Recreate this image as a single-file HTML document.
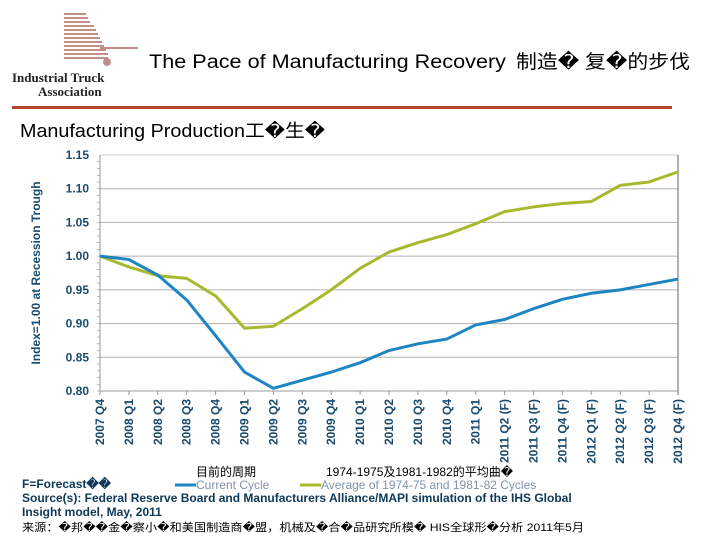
<!DOCTYPE html>
<html><head><meta charset="utf-8"><style>
html,body{margin:0;padding:0;background:#fff;}
svg{display:block;font-family:"Liberation Sans","Noto Sans CJK SC",sans-serif;}
</style></head><body>
<svg width="720" height="540" viewBox="0 0 720 540">
<g>
  <g fill="#b87b78" opacity="0.85">
    <rect x="64" y="13" width="22" height="2"/><rect x="64" y="17" width="24" height="2"/><rect x="64" y="21" width="26" height="2"/>
    <rect x="64" y="25" width="30" height="2"/><rect x="64" y="29" width="32" height="2"/><rect x="64" y="33" width="34" height="2"/>
    <rect x="64" y="37" width="36" height="2"/><rect x="64" y="41" width="38" height="2"/><rect x="64" y="45" width="40" height="2"/>
    <rect x="64" y="49" width="42" height="2"/><rect x="64" y="53" width="44" height="2"/><rect x="64" y="57" width="44" height="2"/>
    <rect x="100" y="47" width="38" height="2"/>
    <circle cx="107" cy="62" r="4"/>
  </g>
  <text x="12" y="82" font-family="Liberation Serif,serif" font-weight="bold" font-size="13" fill="#222">Industrial Truck</text>
  <text x="38" y="96" font-family="Liberation Serif,serif" font-weight="bold" font-size="13" fill="#222">Association</text>
</g>
<g>
<text x="149" y="68" font-size="19" fill="#000" textLength="357" lengthAdjust="spacingAndGlyphs">The Pace of Manufacturing Recovery</text>
<text x="516" y="68" font-size="19" fill="#000" textLength="174" lengthAdjust="spacingAndGlyphs">制造� 复�的步伐</text>
</g>
<rect x="12" y="106" width="660" height="3" fill="#b5452a"/>
<text x="20" y="137" font-size="18" fill="#000" textLength="305" lengthAdjust="spacingAndGlyphs">Manufacturing Production工�生�</text>
<g id="chart"></g>
<g font-size="12">
  <text x="196" y="476" fill="#000">目前的周期</text>
  <text x="326" y="476" fill="#000">1974-1975及1981-1982的平均曲�</text>
  <line x1="175" y1="485" x2="196" y2="485" stroke="#1f85c2" stroke-width="3"/>
  <text x="196" y="489" fill="#7f93a8">Current Cycle</text>
  <line x1="300" y1="485" x2="321" y2="485" stroke="#a9b92f" stroke-width="3"/>
  <text x="321" y="489" fill="#7f93a8">Average of 1974-75 and 1981-82 Cycles</text>
</g>
<text x="22" y="488" font-size="12" font-weight="bold" fill="#0e3858">F=Forecast��</text>
<text x="22" y="502" font-size="12" font-weight="bold" fill="#0e3858">Source(s): Federal Reserve Board and Manufacturers Alliance/MAPI simulation of the IHS Global</text>
<text x="22" y="516" font-size="12" font-weight="bold" fill="#0e3858">Insight model, May, 2011</text>
<text x="22" y="531" font-size="11" fill="#000" textLength="562" lengthAdjust="spacingAndGlyphs">来源：�邦��金�察小�和美国制造商�盟，机械及�合�品研究所模�  HIS全球形�分析 2011年5月</text>
</svg>
<script>
const categories=["2007 Q4","2008 Q1","2008 Q2","2008 Q3","2008 Q4","2009 Q1","2009 Q2","2009 Q3","2009 Q4","2010 Q1","2010 Q2","2010 Q3","2010 Q4","2011 Q1","2011 Q2 (F)","2011 Q3 (F)","2011 Q4 (F)","2012 Q1 (F)","2012 Q2 (F)","2012 Q3 (F)","2012 Q4 (F)"];
const currentCycle=[1.00,0.995,0.972,0.935,0.882,0.828,0.804,0.816,0.828,0.842,0.860,0.870,0.877,0.898,0.906,0.922,0.936,0.945,0.950,0.958,0.966];
const averageCycle=[1.00,0.984,0.971,0.967,0.941,0.893,0.896,0.922,0.950,0.982,1.006,1.020,1.032,1.048,1.066,1.073,1.078,1.081,1.105,1.110,1.125];
const yTicks=[0.80,0.85,0.90,0.95,1.00,1.05,1.10,1.15];
const yTickLabels=["0.80","0.85","0.90","0.95","1.00","1.05","1.10","1.15"];

const NS="http://www.w3.org/2000/svg";
const g=document.getElementById('chart');
const X0=100,X1=678,Y0=391,Y1=155,YMIN=0.80,YMAX=1.15;
const xs=i=>X0+(X1-X0)*i/(categories.length-1);
const ys=v=>Y0-(v-YMIN)/(YMAX-YMIN)*(Y0-Y1);
function mk(t,a){const e=document.createElementNS(NS,t);for(const k in a)e.setAttribute(k,a[k]);g.appendChild(e);return e;}
yTicks.forEach((v,i)=>{
  if(i>0){const l=mk('line',{x1:X0,x2:X1,y1:ys(v),y2:ys(v),stroke:'#b0b0b0','stroke-width':1});
  
  }
  const t=mk('text',{x:89,y:ys(v)+4,'text-anchor':'end','font-size':12,'font-weight':'bold',fill:'#1a4a6e'});
  t.textContent=yTickLabels[i];
  
  
});
for(let k=0;k<35;k++){const y=ys(YMIN+k*0.01);const m=mk('line',{x1:X0-3,x2:X0,y1:y,y2:y,stroke:'#999','stroke-width':0.7});

}
const bt=mk('line',{x1:X0,x2:X1,y1:Y1,y2:Y1,stroke:'#ccc','stroke-width':1});


const ya=mk('line',{x1:X0,x2:X0,y1:Y1,y2:Y0,stroke:'#999','stroke-width':1});


const rb=mk('line',{x1:X1,x2:X1,y1:Y1,y2:Y0+4,stroke:'#999','stroke-width':1.5});


const xa=mk('line',{x1:X0,x2:X1,y1:Y0,y2:Y0,stroke:'#999','stroke-width':1});


categories.forEach((c,i)=>{
  const x=xs(i);
  const tk=mk('line',{x1:x,x2:x,y1:Y0,y2:Y0+4,stroke:'#999'});
  
  
  const t=mk('text',{x:0,y:0,'text-anchor':'end','font-size':12,'font-weight':'bold',fill:'#1a4a6e',transform:`translate(${x+4},${Y0+8}) rotate(-90)`});
  t.textContent=c;
  
  
});
const yt=mk('text',{x:0,y:0,'text-anchor':'middle','font-size':12,'font-weight':'bold',fill:'#1a4a6e',transform:`translate(40,273) rotate(-90)`});
yt.textContent='Index=1.00 at Recession Trough';


const pa=mk('polyline',{points:averageCycle.map((v,i)=>xs(i)+','+ys(v)).join(' '),fill:'none',stroke:'#a9b92f','stroke-width':3,'stroke-linejoin':'round'});


const pc=mk('polyline',{points:currentCycle.map((v,i)=>xs(i)+','+ys(v)).join(' '),fill:'none',stroke:'#1f85c2','stroke-width':3,'stroke-linejoin':'round'});


</script>
</body></html>
